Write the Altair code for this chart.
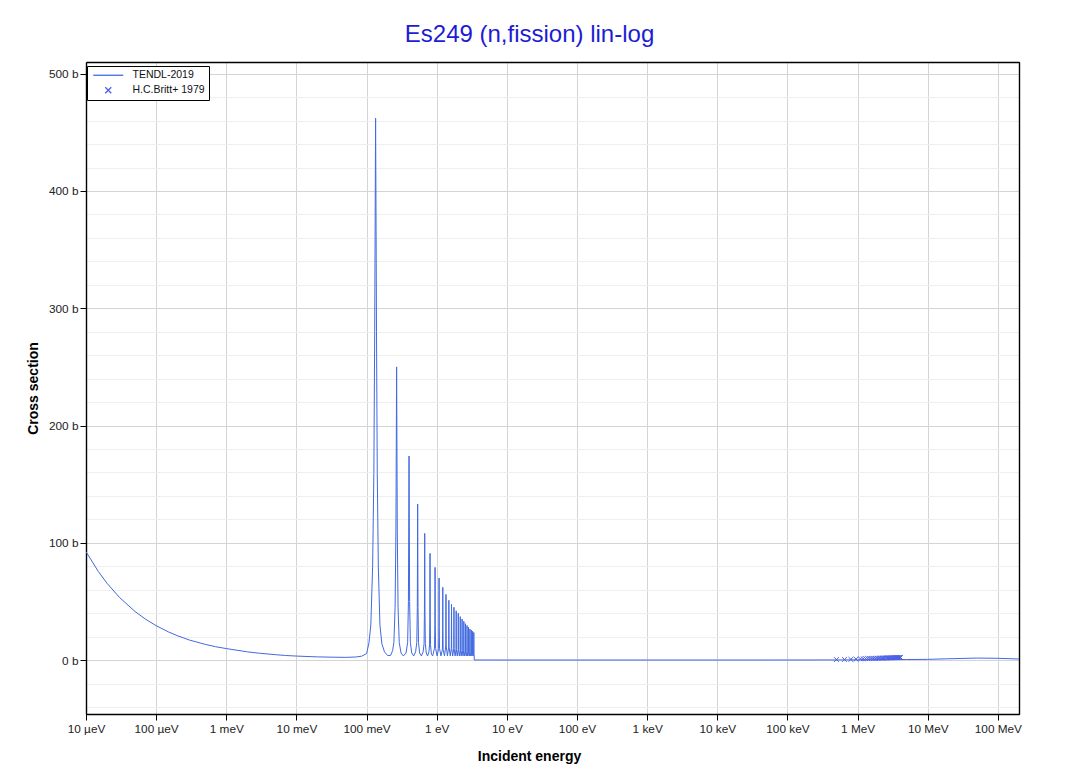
import json
import altair as alt
import pandas as pd

# ---------------- data ----------------
# TENDL-2019 curve: low-energy 1/v part (eV, barn)
bg_E = [1e-5, 1.5e-5, 2e-5, 3e-5, 5e-5, 7e-5, 1e-4, 1.5e-4, 2e-4, 3e-4, 5e-4, 7e-4,
        1e-3, 2e-3, 3e-3, 5e-3, 7e-3, 1e-2, 2e-2, 3e-2, 5e-2, 7e-2, 8.5e-2]
bg_xs = [92.4, 75.5, 65.4, 53.4, 41.4, 35.0, 29.3, 24.0, 20.8, 17.0, 13.4, 11.4,
         9.8, 7.0, 5.8, 4.6, 3.9, 3.4, 2.7, 2.5, 2.3, 2.6, 3.3]

# resonance region (eV, barn)
res_E = [0.1, 0.108, 0.115, 0.122, 0.127, 0.1305, 0.1345, 0.1385, 0.142, 0.147, 0.155, 0.165, 0.18, 0.2,
         0.22, 0.235, 0.245, 0.255, 0.262, 0.268, 0.274, 0.281, 0.292, 0.31, 0.335,
         0.365, 0.385, 0.395, 0.403, 0.411, 0.421, 0.44, 0.47,
         0.50, 0.52, 0.529, 0.535, 0.541, 0.55, 0.57, 0.605,
         0.64, 0.66, 0.668, 0.674, 0.68, 0.688, 0.71, 0.74,
         0.775, 0.79, 0.797, 0.803, 0.809, 0.816, 0.84, 0.875,
         0.93, 0.941, 0.947, 0.953, 0.965, 1.013,
         1.065, 1.075, 1.08, 1.085, 1.095, 1.15,
         1.205, 1.215, 1.22, 1.225, 1.235, 1.29,
         1.345, 1.355, 1.365, 1.42,
         1.48, 1.49, 1.50, 1.56,
         1.615, 1.625, 1.635, 1.69,
         1.75, 1.76, 1.77, 1.83,
         1.885, 1.895, 1.905, 1.96,
         2.02, 2.03, 2.04, 2.10,
         2.155, 2.165, 2.175, 2.23,
         2.29, 2.30, 2.31, 2.37,
         2.425, 2.435, 2.445, 2.50,
         2.56, 2.57, 2.58, 2.64,
         2.695, 2.705, 2.715, 2.77,
         2.83, 2.84, 2.85, 2.91,
         2.965, 2.975, 2.985, 3.04,
         3.10, 3.11, 3.12, 3.18,
         3.235, 3.245, 3.255, 3.31,
         3.37, 3.38, 3.39, 3.42]
res_xs = [5.5, 14.5, 30, 80, 160, 280, 462, 280, 160, 80, 30, 14, 7, 3.8,
          4, 8, 15, 45, 110, 250, 110, 45, 15, 6, 3.5,
          6, 15, 50, 174, 50, 15, 6, 3.5,
          7, 15, 45, 133, 45, 15, 6, 3.5,
          7, 14, 40, 108, 40, 14, 6, 3.5,
          7, 13, 35, 91, 35, 13, 5, 3.5,
          10, 30, 79, 30, 10, 3.5,
          10, 28, 70, 28, 10, 3.5,
          9, 25, 62, 25, 9, 3.5,
          12, 56, 12, 3.5,
          11, 51, 11, 3.5,
          10, 47.5, 10, 3.5,
          10, 45, 10, 3.5,
          9, 42, 9, 3.5,
          9, 40, 9, 3.5,
          8, 37, 8, 3.5,
          8, 35, 8, 3.5,
          8, 33, 8, 3.5,
          7, 31, 7, 3.5,
          7, 29.5, 7, 3.5,
          7, 28, 7, 3.5,
          6, 26.5, 6, 3.5,
          6, 25.5, 6, 3.5,
          6, 24.5, 6, 3.5,
          6, 23.5, 6, 3.5]

# above the resonance region (eV, barn)
hi_E = [3.43, 10, 100, 1e3, 1e4, 1e5, 5e5, 1e6, 2e6, 5e6, 1e7, 2e7, 5e7, 1e8, 2e8]
hi_xs = [0.05, 0.04, 0.03, 0.03, 0.03, 0.05, 0.1, 0.2, 0.3, 0.45, 0.6, 1.1, 1.7, 1.5, 0.9]

# H.C.Britt+ 1979 measured points (eV, barn)
britt_E = [5.0e5, 6.5e5, 8.0e5, 9.5e5, 1.1e6, 1.2e6, 1.3e6, 1.4e6, 1.5e6, 1.6e6, 1.7e6, 1.8e6,
           1.9e6, 2.0e6, 2.1e6, 2.2e6, 2.3e6, 2.4e6, 2.5e6, 2.6e6, 2.7e6, 2.8e6, 2.9e6, 3.0e6,
           3.1e6, 3.2e6, 3.3e6, 3.4e6, 3.5e6, 3.6e6, 3.7e6, 3.8e6, 3.9e6, 4.0e6, 4.1e6]
britt_xs = [0.4, 0.5, 0.6, 0.8, 1.0, 1.1, 1.2, 1.3, 1.4, 1.4, 1.5, 1.5,
            1.6, 1.6, 1.7, 1.7, 1.7, 1.8, 1.8, 1.8, 1.9, 1.9, 1.9, 2.0,
            2.0, 2.0, 2.0, 2.1, 2.1, 2.1, 2.1, 2.1, 2.2, 2.2, 2.2]

series_names = ["TENDL-2019", "H.C.Britt+ 1979"]
x_tick_values = [1e-5, 1e-4, 1e-3, 1e-2, 1e-1, 1, 10, 100, 1e3, 1e4, 1e5, 1e6, 1e7, 1e8]
x_tick_labels = ["10 µeV", "100 µeV", "1 meV", "10 meV", "100 meV", "1 eV", "10 eV",
                 "100 eV", "1 keV", "10 keV", "100 keV", "1 MeV", "10 MeV", "100 MeV"]
y_major = [0, 100, 200, 300, 400, 500]
y_minor = [-40, -20, 20, 40, 60, 80, 120, 140, 160, 180, 220, 240, 260, 280,
           320, 340, 360, 380, 420, 440, 460, 480]

# ---------------- chart ----------------
line_df = pd.DataFrame({"E": bg_E + res_E + hi_E, "xs": bg_xs + res_xs + hi_xs})
line_df["series"] = series_names[0]
pts_df = pd.DataFrame({"E": britt_E, "xs": britt_xs})
pts_df["series"] = series_names[1]

FONT = "Liberation Sans"
xscale = alt.Scale(type="log", domain=[1e-5, 2e8], nice=False)
yscale = alt.Scale(domain=[-46, 510], nice=False, zero=False)
color_scale = alt.Scale(domain=series_names, range=["#4169e1", "#4a5ee6"])
shape_scale = alt.Scale(domain=series_names, range=["M-5,0L5,0", "M-1,-1L1,1M-1,1L1,-1"])

legend = alt.Legend(title=None, orient="none", legendX=1, legendY=4,
                    fillColor="white", strokeColor="black", padding=4,
                    labelFont=FONT, labelFontSize=10.5, labelColor="#111",
                    symbolSize=36, symbolStrokeWidth=1.3, symbolOffset=12,
                    labelOffset=19, rowPadding=3, cornerRadius=0)

label_expr = json.dumps(x_tick_labels, ensure_ascii=False) + "[round(log(datum.value)/LN10)+5]"

line = alt.Chart(line_df).mark_line(strokeWidth=1, clip=True).encode(
    x=alt.X("E:Q", scale=xscale,
            axis=alt.Axis(orient="bottom", values=x_tick_values, labelExpr=label_expr,
                          grid=True, gridColor="#d4d4d4", gridWidth=1, tickSize=6,
                          labelPadding=3, title="Incident energy", titlePadding=15,
                          titleX=443, labelFlush=False)),
    y=alt.Y("xs:Q", scale=yscale,
            axis=alt.Axis(orient="left", values=y_major, labelExpr="datum.value + ' b'",
                          grid=True, gridColor="#d4d4d4", gridWidth=1.2, tickSize=6,
                          labelPadding=2, title="Cross section", titlePadding=8)),
    color=alt.Color("series:N", scale=color_scale, legend=legend),
)

pts = alt.Chart(pts_df).mark_point(filled=False, size=22, strokeWidth=1, opacity=1).encode(
    x=alt.X("E:Q", scale=xscale,
            axis=alt.Axis(orient="top", labels=False, ticks=False, grid=False, title=None)),
    y=alt.Y("xs:Q", scale=yscale,
            axis=alt.Axis(orient="right", values=y_minor, labels=False, ticks=False,
                          grid=True, gridColor="#efefef", gridWidth=1, title=None)),
    color=alt.Color("series:N", scale=color_scale, legend=legend),
    shape=alt.Shape("series:N", scale=shape_scale, legend=legend),
)

chart = alt.layer(line, pts).resolve_axis(
    x="independent", y="independent"
).properties(
    width=933, height=652,
    background="white",
    autosize=alt.AutoSizeParams(type="none"),
    padding={"left": 78, "top": 54, "right": 40, "bottom": 58},
    title=alt.TitleParams("Es249 (n,fission) lin-log", font=FONT, fontSize=24,
                          fontWeight="normal", color="#1c1cd4", dx=-23, offset=15,
                          anchor="middle"),
).configure_view(
    stroke="black", strokeWidth=1
).configure_axis(
    labelFont=FONT, labelFontSize=11.8, labelColor="#222",
    titleFont=FONT, titleFontSize=14, titleFontWeight="bold", titleColor="#000",
    domainColor="#000", domainWidth=1.4, tickColor="#000", tickWidth=1,
)

chart.save("out.html", embed_options={"renderer": "svg", "actions": False})
